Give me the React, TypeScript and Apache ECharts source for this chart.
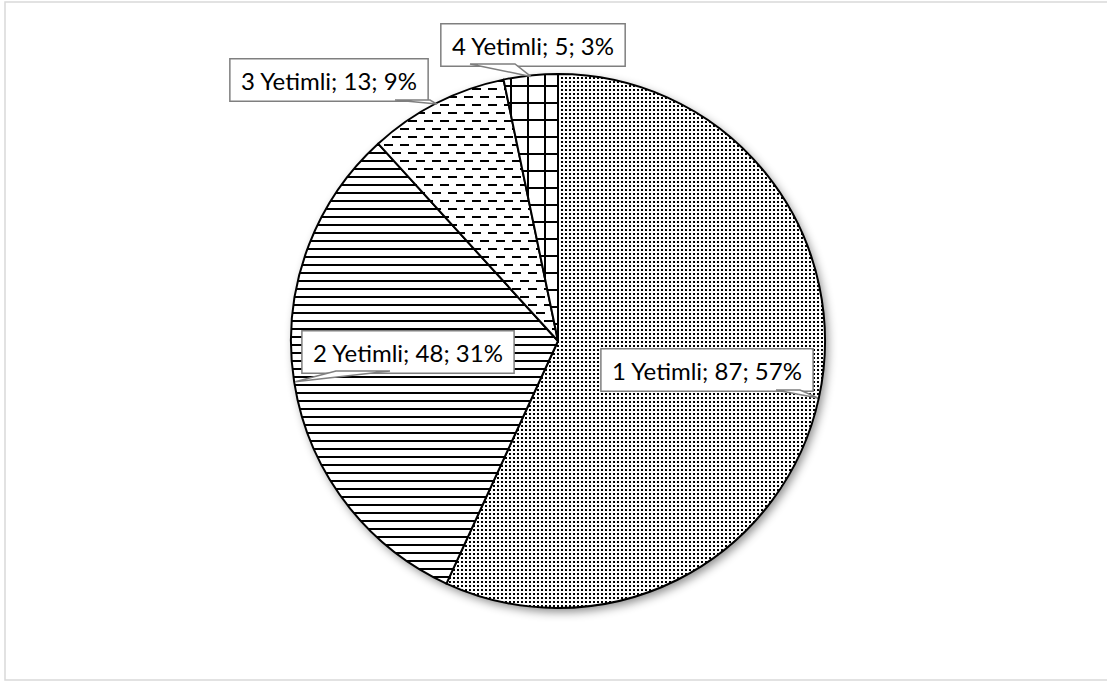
import React, { useEffect, useRef } from "react";
import * as echarts from "echarts";

const CATEGORIES = ["1 Yetimli", "2 Yetimli", "3 Yetimli", "4 Yetimli"];
const VALUES = [87, 48, 13, 5];
const PATTERNS = ["dots", "hlines", "dashes", "grid"];
// label box centres and callout base points on the box bottom (layout only)
const LABEL_POS = [
  [707, 370],
  [408, 352],
  [329, 80],
  [533, 45],
];
const CALLOUT_BASE = [
  [776, 800, 390],
  [336, 390, 371],
  [395, 430, 100],
  [470, 515, 64],
];
const CENTER = [558, 341];
const RADIUS = 267;

function makePattern(kind: string) {
  const c = document.createElement("canvas");
  let w = 4,
    h = 4;
  if (kind === "hlines") { w = 8; h = 8; }
  if (kind === "dashes") { w = 16; h = 16; }
  if (kind === "grid") { w = 17; h = 17; }
  c.width = w;
  c.height = h;
  const ctx = c.getContext("2d")!;
  ctx.fillStyle = "#fff";
  ctx.fillRect(0, 0, w, h);
  ctx.fillStyle = "#000";
  if (kind === "dots") {
    ctx.fillRect(1, 1, 2, 2);
  } else if (kind === "hlines") {
    ctx.fillRect(0, 0, 8, 2);
  } else if (kind === "dashes") {
    ctx.fillRect(0, 0, 9, 2);
    ctx.fillRect(8, 8, 8, 2);
    ctx.fillRect(0, 8, 1, 2);
  } else if (kind === "grid") {
    ctx.fillRect(0, 0, 17, 2);
    ctx.fillRect(0, 0, 2, 17);
  }
  return { image: c, repeat: "repeat", imageWidth: w, imageHeight: h } as any;
}

function edgePoint(i: number) {
  const total = VALUES.reduce((a, b) => a + b, 0);
  let before = 0;
  for (let k = 0; k < i; k++) before += VALUES[k];
  const frac = (before + VALUES[i] / 2) / total;
  const ang = frac * 2 * Math.PI; // clockwise from 12 o'clock
  const r = RADIUS - 1;
  return [CENTER[0] + r * Math.sin(ang), CENTER[1] - r * Math.cos(ang)];
}

export default function App() {
  const ref = useRef<HTMLDivElement>(null);
  useEffect(() => {
    if (!ref.current) return;
    const chart = echarts.init(ref.current, undefined, { renderer: "svg" });
    const data = CATEGORIES.map((name, i) => ({
      name,
      value: VALUES[i],
      itemStyle: { color: makePattern(PATTERNS[i]) },
    }));
    const leaders = CATEGORIES.map((_, i) => {
      const p0 = edgePoint(i);
      const b = CALLOUT_BASE[i];
      return {
        type: "polygon",
        z: 100,
        silent: true,
        shape: {
          points: [
            [p0[0], p0[1]],
            [b[0], b[2]],
            [b[1], b[2]],
          ],
        },
        style: { fill: "#fff", stroke: "#7f7f7f", lineWidth: 1.5 },
      };
    });
    chart.setOption({
      animation: false,
      backgroundColor: "#fff",
      graphic: [
        {
          type: "rect",
          shape: { x: 5, y: 2, width: 1106, height: 678 },
          style: { fill: "none", stroke: "#d9d9d9", lineWidth: 1.5 },
          silent: true,
        },
        ...leaders,
      ],
      series: [
        {
          type: "pie",
          silent: true,
          center: CENTER,
          radius: RADIUS,
          z: 1,
          label: { show: false },
          labelLine: { show: false },
          itemStyle: {
            color: "#fff",
            shadowBlur: 10,
            shadowColor: "rgba(0,0,0,0.45)",
            shadowOffsetX: 3,
            shadowOffsetY: 4,
          },
          data: [{ value: 1, name: "" }],
        },
        {
          type: "pie",
          center: CENTER,
          radius: RADIUS,
          startAngle: 90,
          clockwise: true,
          percentPrecision: 0,
          z: 2,
          zlevel: 0,
          itemStyle: { borderColor: "#000", borderWidth: 2 },
          label: {
            show: true,
            formatter: "{b}; {c}; {d}%",
            fontFamily: "Lato, 'Open Sans', sans-serif",
            fontSize: 24,
            lineHeight: 26,
            color: "#000",
            backgroundColor: "#fff",
            borderColor: "#7f7f7f",
            borderWidth: 1.5,
            padding: [8, 10, 7, 10],
          },
          labelLine: { show: false },
          labelLayout: (params: any) => {
            const i = params.dataIndex;
            return {
              x: LABEL_POS[i][0],
              y: LABEL_POS[i][1],
              align: "center",
              verticalAlign: "middle",
            };
          },
          data,
        },
      ],
    });
    return () => chart.dispose();
  }, []);
  return (
    <div
      ref={ref}
      style={{ position: "absolute", left: 0, top: 0, width: 1107, height: 682 }}
    />
  );
}
